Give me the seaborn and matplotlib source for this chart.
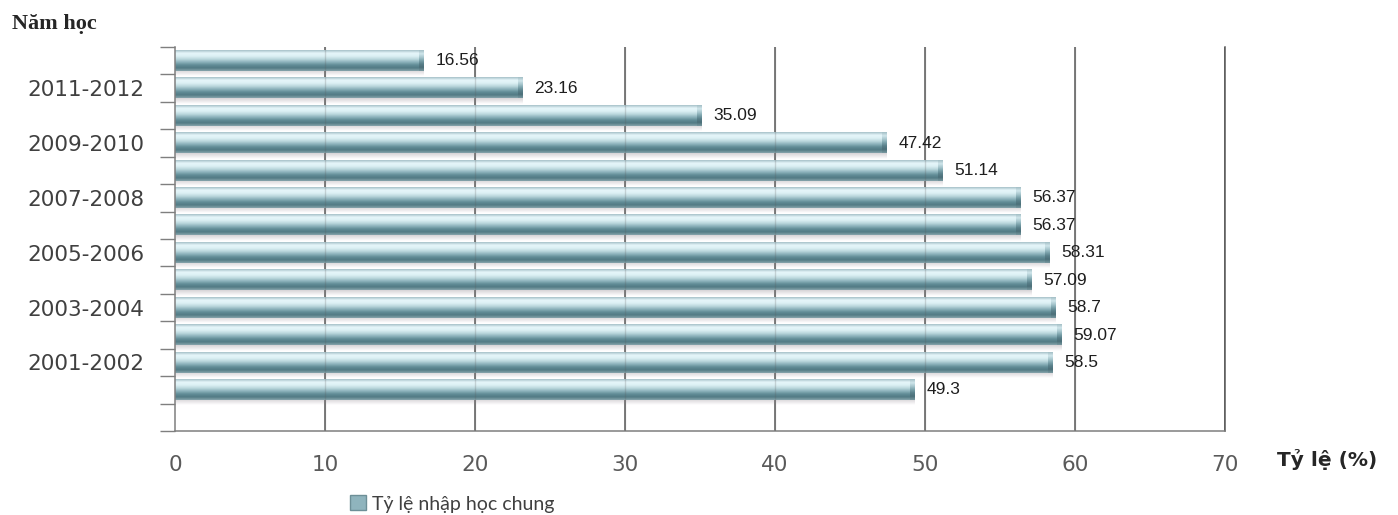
import numpy as np
import pandas as pd
import matplotlib
matplotlib.use("Agg")
import matplotlib.pyplot as plt
import seaborn as sns
from matplotlib.colors import LinearSegmentedColormap
from matplotlib.patches import Rectangle

# ---------------- data ----------------
years = ["2012-2013", "2011-2012", "2010-2011", "2009-2010", "2008-2009",
         "2007-2008", "2006-2007", "2005-2006", "2004-2005", "2003-2004",
         "2002-2003", "2001-2002", "2000-2001"]
rates = [16.56, 23.16, 35.09, 47.42, 51.14, 56.37, 56.37, 58.31, 57.09,
         58.7, 59.07, 58.5, 49.3]
rate_labels = ["16.56", "23.16", "35.09", "47.42", "51.14", "56.37", "56.37",
               "58.31", "57.09", "58.7", "59.07", "58.5", "49.3"]
shown_years = ["2011-2012", "2009-2010", "2007-2008", "2005-2006",
               "2003-2004", "2001-2002"]
x_ticks = [0, 10, 20, 30, 40, 50, 60, 70]
series_name = "Tỷ lệ nhập học chung"
y_title = "Năm học"
x_title = "Tỷ lệ (%)"

# ---------------- figure ----------------
sns.set_theme(style="white")
plt.rcParams["font.family"] = ["DejaVu Sans"]

fig = plt.figure(figsize=(13.98, 5.15), dpi=100)
fig.patch.set_facecolor("white")
ax = fig.add_axes([175 / 1398, 1 - 431 / 515, 1050 / 1398, 384 / 515])

df = pd.DataFrame({"year": years, "rate": rates})
sns.barplot(data=df, x="rate", y="year", orient="h", order=years,
            color="#a9cbd3", width=0.74, ax=ax, zorder=2)

# gradient shading for a cylindrical look
bar_cmap = LinearSegmentedColormap.from_list(
    "bar", ["#a7c2c9", "#e6f6fa", "#dcf0f4", "#bcd8de", "#8db3bc",
            "#628d97", "#527a84", "#86a4ab"])
cap_cmap = LinearSegmentedColormap.from_list(
    "cap", ["#a3bec5", "#d0e6eb", "#a9c8cf", "#7ba2ab", "#587f89",
            "#4b6f78", "#7898a0"])
grad = np.linspace(0, 1, 64).reshape(-1, 1)
shadow = np.zeros((32, 1, 4))
shadow[..., 0:3] = [0.58, 0.55, 0.58]
shadow[:, 0, 3] = np.linspace(0.38, 0.0, 32)

for p in list(ax.patches):
    x0, y0 = p.get_x(), p.get_y()
    w, h = p.get_width(), p.get_height()
    p.set_facecolor("none")
    p.set_edgecolor("none")
    ax.imshow(shadow, extent=(x0, x0 + w, y0 + h + 0.2, y0 + h),
              aspect="auto", zorder=1.5, interpolation="bilinear")
    ax.imshow(grad, cmap=bar_cmap, extent=(x0, x0 + w, y0 + h, y0),
              aspect="auto", zorder=2, interpolation="bilinear")
    ax.imshow(grad, cmap=cap_cmap,
              extent=(x0 + w - 0.3, x0 + w, y0 + h, y0),
              aspect="auto", zorder=2.1, interpolation="bilinear")

# value labels
for i, (v, lab) in enumerate(zip(rates, rate_labels)):
    ax.annotate(lab, xy=(v, i), xytext=(12, 0), textcoords="offset pixels",
                va="center", ha="left", fontsize=12.5,
                family="Liberation Sans", color="#1e1e1e", zorder=6)

# axes limits / grid
ax.set_xlim(0, 70)
ax.set_ylim(len(years) + 0.5, -0.5)
ax.set_xticks(x_ticks)
for xv in x_ticks[1:]:
    ax.axvline(xv, color="#595959", lw=1.1, zorder=0.5)
    ax.axvline(xv, color="#595959", lw=1.0, alpha=0.22, zorder=5)

ax.set_yticks(range(len(years)))
ax.set_yticklabels([y if y in shown_years else "" for y in years])
ax.set_yticks(np.arange(-0.5, len(years) + 1, 1), minor=True)
ax.tick_params(axis="y", which="major", length=0, pad=22,
               labelsize=15.5, labelcolor="#404040")
ax.tick_params(axis="y", which="minor", length=11, width=1,
               color="#7f7f7f", direction="out", left=True)
ax.tick_params(axis="x", which="major", length=0, pad=17,
               labelsize=15.5, labelcolor="#5a5a5a")

ax.set_xlabel("")
ax.set_ylabel("")
for s in ["left", "bottom", "right"]:
    ax.spines[s].set_visible(True)
    ax.spines[s].set_color("#7f7f7f")
    ax.spines[s].set_linewidth(1.1)
ax.spines["top"].set_visible(False)
ax.spines["right"].set_color("#595959")
ax.set_facecolor("white")

# titles
fig.text(12 / 1398, 1 - 24 / 515, y_title, family="Liberation Serif",
         fontweight="bold", fontsize=16, color="#262626", va="center")
fig.text(1277 / 1398, 1 - 459 / 515, x_title, family="DejaVu Sans",
         fontweight="bold", fontsize=14.5, color="#262626", va="center")

# legend
handle = Rectangle((0, 0), 1, 1, facecolor="#8fb4bd", edgecolor="#6d8f97")
fig.legend([handle], [series_name], loc="center",
           bbox_to_anchor=(452 / 1398, 1 - 504 / 515), frameon=False,
           prop={"family": "Lato", "size": 14}, handlelength=0.8,
           handleheight=0.8, handletextpad=0.3, labelcolor="#404040")

fig.savefig("out.png", dpi=100, facecolor="white")
